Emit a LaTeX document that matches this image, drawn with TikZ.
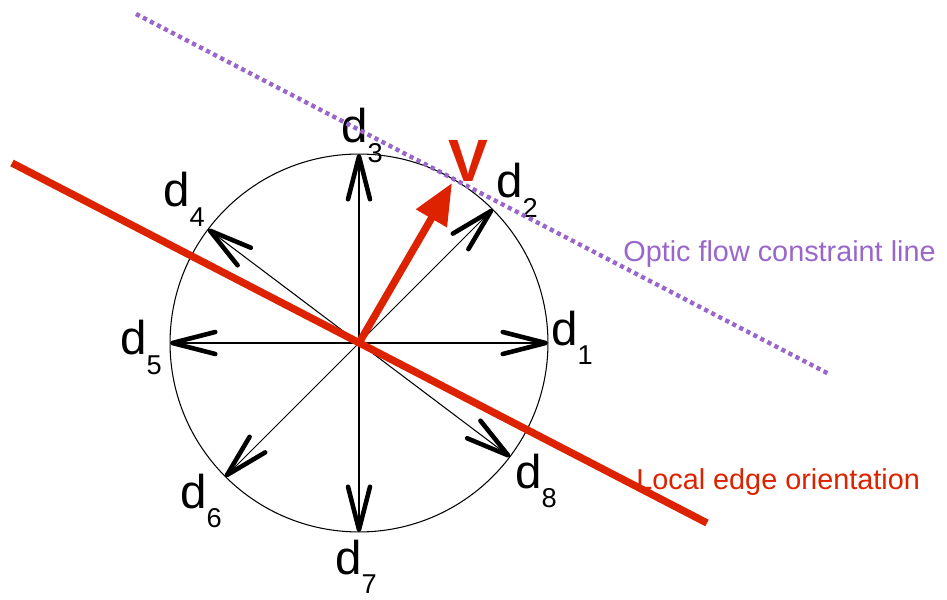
\documentclass[tikz,border=0pt]{standalone}
\usepackage{fontspec}
\setmainfont{Liberation Sans}
\usetikzlibrary{arrows.meta, calc}
\definecolor{edgered}{HTML}{DD2200}
\definecolor{flowpurple}{HTML}{9966CC}
\newcommand{\dlab}[1]{d\raisebox{-11pt}{\fontsize{15.5}{17}\selectfont #1}}

\begin{document}
\begin{tikzpicture}[x=0.02cm, y=0.02cm,
    every node/.style={inner sep=0pt, anchor=base west},
    dlabel/.style={font=\fontsize{27}{30}\selectfont},
    note/.style={font=\fontsize{16.4}{19}\selectfont},
    dirarr/.style={-{Straight Barb[length=0.86cm, width=0.44cm, line width=2.6pt, round]},
      line width=0.6pt},
    varr/.style={-{Triangle[length=0.82cm, width=0.68cm]}, line width=4.2pt, color=edgered}]

  \useasboundingbox (0,0) rectangle (947,599);
  \coordinate (O) at (359,256);
  \draw[line width=0.6pt] (O) circle (3.78cm);

  % the eight directions
  \foreach \i/\a in {1/0, 2/45, 3/90, 4/143, 5/180, 6/225, 7/270, 8/-37} {
    \coordinate (t\i) at ($(O)+(\a:189)$);
    \draw[dirarr] (O) -- (t\i);
  }

  \node[dlabel] (d1) at (551,254) {\dlab{1}};
  \node[dlabel] (d2) at (496,401) {\dlab{2}};
  \node[dlabel] (d3) at (341,456) {\dlab{3}};
  \node[dlabel] (d4) at (163,392) {\dlab{4}};
  \node[dlabel] (d5) at (120,244) {\dlab{5}};
  \node[dlabel] (d6) at (180,91) {\dlab{6}};
  \node[dlabel] (d7) at (335,25) {\dlab{7}};
  \node[dlabel] (d8) at (515,111) {\dlab{8}};

  % local edge
  \coordinate (e1) at (12,436);
  \coordinate (e2) at (707,76);
  \draw[edgered, line width=4.2pt] (e1) -- (e2);
  \node[note, text=edgered] (edgelab) at (636,110) {Local edge orientation};

  % flow vector
  \coordinate (vt) at (452,416);
  \draw[varr] (O) -- (vt);
  \node[font=\fontsize{34}{36}\selectfont\bfseries, text=edgered] (vlab) at (448,417) {V};

  % constraint line
  \coordinate (f1) at (136,585);
  \coordinate (f2) at (829,225);
  \draw[flowpurple, line width=2.5pt, dash pattern=on 2.4pt off 2.1pt] (f1) -- (f2);
  \node[note, text=flowpurple] (flowlab) at (623,337) {Optic flow constraint line};
\end{tikzpicture}
\end{document}
